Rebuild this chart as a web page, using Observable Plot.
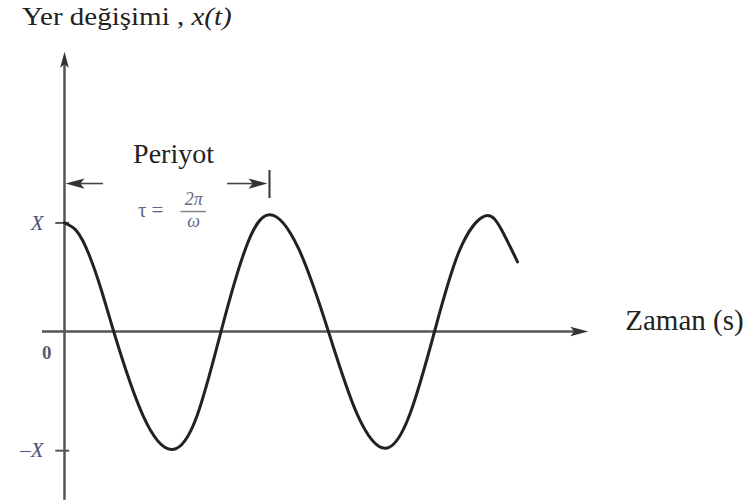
<!DOCTYPE html>
<html><head><meta charset="utf-8">
<script src="https://cdn.jsdelivr.net/npm/d3@7"></script>
<script src="https://cdn.jsdelivr.net/npm/@observablehq/plot@0.6"></script>
<style>
body{margin:0;background:#fff;}
#title{height:36px;padding:4px 0 0 22px;font:25px/26px "Liberation Serif","DejaVu Serif",serif;color:#222;white-space:nowrap;}
#title span{display:inline-block;transform:scaleX(1.16);transform-origin:0 0;}
</style></head><body>
<div id="title"><span>Yer değişimi , <i>x(t)</i></span></div>
<div id="chart"></div>
<script>
// Wave samples (t in quarter-period units, v in amplitude units)
const waveT = [0, 0.24, 0.48, 0.72, 0.96, 1.53, 2.11, 2.59, 3.06, 3.53, 4.00, 4.57, 5.15, 5.71, 6.26, 6.74, 7.22, 7.71, 8.21, 8.53, 8.84];
const waveV = [0.92, 0.85, 0.65, 0.35, 0, -0.71, -1.00, -0.71, 0.01, 0.70, 0.99, 0.70, 0, -0.70, -0.99, -0.70, 0, 0.69, 0.98, 0.86, 0.59];

// y-axis labels
const yTickLabels = ["X", "0", "–X"];
const yTickValues = [0.92, 0, -1.01];
const yTickMarked = [true, false, true];

// period annotation
const periodStart = 0;
const periodEnd = 4.0;
const periodLabel = "Periyot";
const formulaLeft = "τ =";
const formulaNum = "2π";
const formulaDen = "ω";
const xAxisTitle = "Zaman (s)";

const wave = waveT.map((t, i) => ({t, v: waveV[i]}));
const yTicks = yTickLabels.map((label, i) => ({label, value: yTickValues[i], marked: yTickMarked[i]}));

function makeHead(dx, dy) {
  return {
    draw(ctx, size) {
      const l = Math.sqrt(size / Math.PI) * 2, w = l * 0.27;
      const px = -dy, py = dx;
      ctx.moveTo(0, 0);
      ctx.lineTo(-dx * l + px * w, -dy * l + py * w);
      ctx.lineTo(-dx * l * 0.78, -dy * l * 0.78);
      ctx.lineTo(-dx * l - px * w, -dy * l - py * w);
      ctx.closePath();
    }
  };
}

const yTop = 2.37, yBot = -1.43, xLeft = -0.43, xRight = 10.22;
const arrowY = 1.254;
const periodMid = (periodStart + periodEnd) / 2;
const span = periodEnd - periodStart;
const fracX = periodStart + span * 0.63;
const ink = "#555";
const labelInk = "#4a5278";
const serif = '"Liberation Serif", "DejaVu Serif", serif';

const chart = Plot.plot({
  width: 748, height: 463, margin: 0,
  x: {domain: [0, 4], range: [64, 269], axis: null},
  y: {domain: [-1, 1], range: [409, 173], axis: null},
  style: {fontFamily: serif, background: "#fff", overflow: "visible"},
  marks: [
    // axes
    Plot.ruleX([0], {y1: yBot, y2: yTop - 0.08, stroke: ink, strokeWidth: 2.5}),
    Plot.ruleY([0], {x1: xLeft, x2: xRight - 0.2, stroke: ink, strokeWidth: 2.5}),
    Plot.dot([{x: 0, y: yTop}], {x: "x", y: "y", symbol: makeHead(0, -1), r: 8, fill: "#333", stroke: "none"}),
    Plot.dot([{x: xRight, y: 0}], {x: "x", y: "y", symbol: makeHead(1, 0), r: 9, fill: "#333", stroke: "none"}),
    // y ticks and labels
    Plot.ruleY(yTicks.filter(d => d.marked), {y: "value", x1: -0.17, x2: 0.1, stroke: ink, strokeWidth: 2}),
    Plot.text(yTicks.filter(d => d.label !== "0"), {x: 0, y: "value", text: "label", textAnchor: "end", dx: -21, fontSize: 21, fontStyle: "italic", fill: labelInk}),
    Plot.text(yTicks.filter(d => d.label === "0"), {x: 0, y: "value", text: "label", textAnchor: "end", dx: -13, dy: 21, fontSize: 19, fontWeight: "bold", fill: "#5e5a6a"}),
    // x axis title
    Plot.text([xAxisTitle], {x: xRight, y: 0, text: d => d, textAnchor: "start", dx: 37, dy: -11, fontSize: 29, fill: "#222"}),
    // wave
    Plot.line(wave, {x: "t", y: "v", curve: "natural", stroke: "#222", strokeWidth: 3}),
    // period annotation
    Plot.ruleY([arrowY], {x1: periodStart + 0.2, x2: periodStart + span * 0.19, stroke: "#444", strokeWidth: 1.6}),
    Plot.dot([{x: periodStart, y: arrowY}], {x: "x", y: "y", symbol: makeHead(-1, 0), r: 9.5, fill: "#333", stroke: "none", dx: 1}),
    Plot.ruleY([arrowY], {x1: periodStart + span * 0.795, x2: periodEnd - 0.3, stroke: "#444", strokeWidth: 1.6}),
    Plot.dot([{x: periodEnd, y: arrowY}], {x: "x", y: "y", symbol: makeHead(1, 0), r: 9.5, fill: "#333", stroke: "none", dx: -2}),
    Plot.ruleX([periodEnd], {y1: arrowY - 0.127, y2: arrowY + 0.11, stroke: "#333", strokeWidth: 2}),
    Plot.text([periodLabel], {x: periodMid, y: arrowY, text: d => d, dx: 6.5, dy: -29, fontSize: 28, fill: "#222"}),
    Plot.text([formulaLeft], {x: fracX, y: arrowY, text: d => d, dx: -43, dy: 27, fontSize: 21, fill: "#5b6690"}),
    Plot.text([formulaNum], {x: fracX, y: arrowY, text: d => d, dy: 16, fontSize: 18, fontStyle: "italic", fill: "#6e6680"}),
    Plot.ruleY([arrowY], {x1: fracX - 0.25, x2: fracX + 0.25, dy: 28, stroke: "#8a8090", strokeWidth: 1.5}),
    Plot.text([formulaDen], {x: fracX, y: arrowY, text: d => d, dy: 38, fontSize: 18, fontStyle: "italic", fill: "#5b6690"})
  ]
});
document.getElementById("chart").appendChild(chart);
</script>
</body></html>
